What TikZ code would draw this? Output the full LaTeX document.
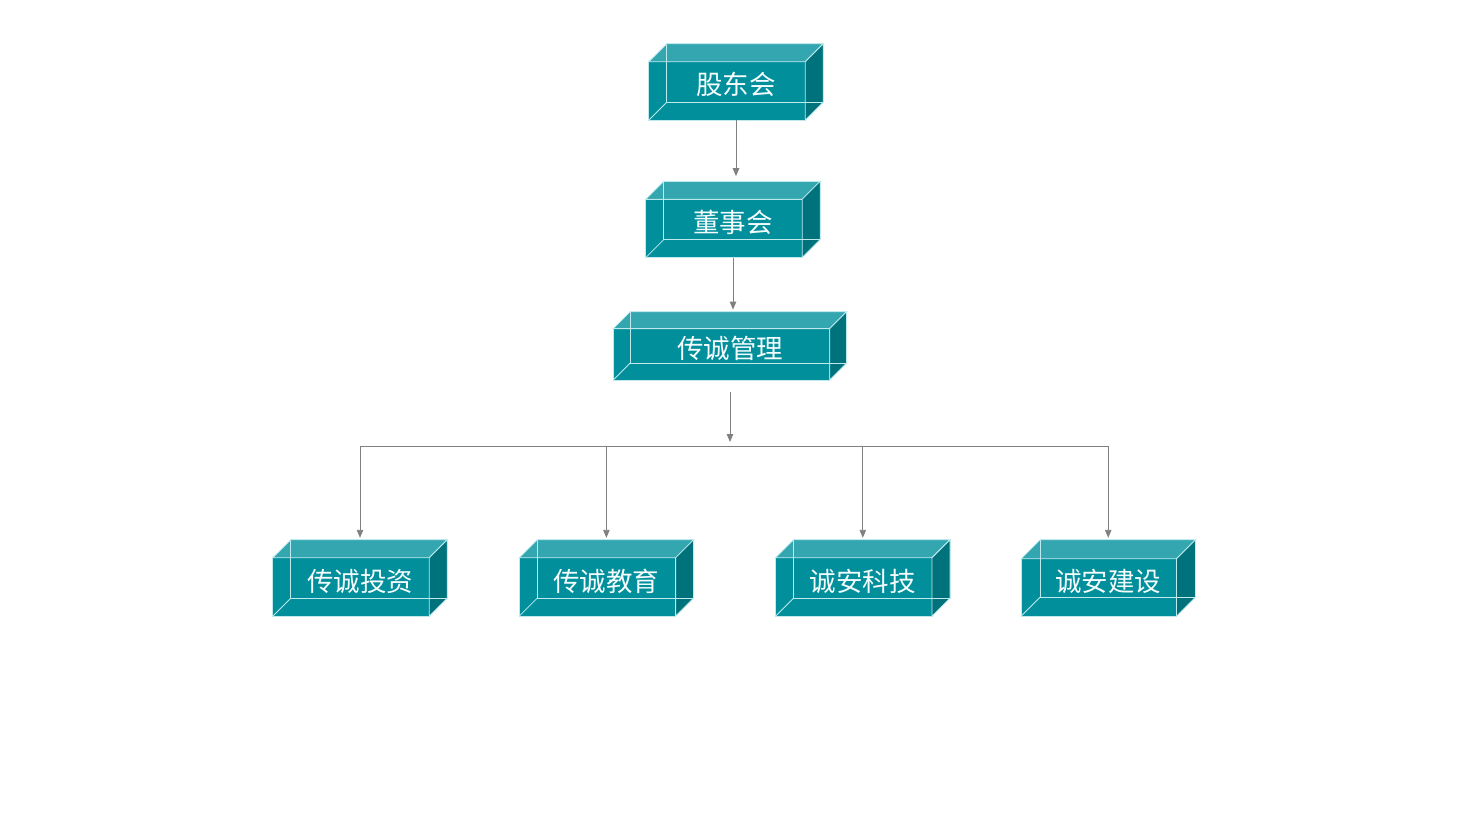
\documentclass[tikz,border=0pt]{standalone}
\usepackage{fontspec}
\newfontfamily\cjk{Noto Sans CJK SC}
\usetikzlibrary{arrows.meta, positioning, calc, backgrounds}

\definecolor{frontface}{RGB}{0,143,155}
\definecolor{topface}{RGB}{51,166,176}
\definecolor{sideface}{RGB}{0,114,124}
\definecolor{edgeline}{RGB}{190,234,238}
\definecolor{linkgray}{RGB}{128,128,128}

\begin{document}
\begin{tikzpicture}[
    x=1pt, y=-1pt,
    every node/.style={font=\cjk\fontsize{26.5}{26.5}\selectfont},
    crate/.style={
        rectangle,
        inner sep=0pt,
        minimum width=174pt,
        minimum height=76pt,
        text height=28pt,
        text depth=2pt,
        text=white!96!cyan
    },
    wide crate/.style={crate, minimum width=233pt, minimum height=68pt},
    face/.style={draw=edgeline, line width=0.8pt},
    link/.style={draw=linkgray, line width=0.9pt},
    arrow/.style={link, -{Triangle[length=8pt,width=6.5pt]}}
]
    \useasboundingbox (0,0) rectangle (1457,816);

    % Define nodes
    \node (gd) [crate] at (736,82) {股东会};
    \node (dsh) [crate, below=61pt of gd, xshift=-3pt] {董事会};
    \node (gl) [wide crate, below=54pt of dsh, xshift=-3pt] {传诚管理};

    \node (tz) [crate] at (360,578) {传诚投资};
    \node (jy) [crate, right=72pt of tz] {传诚教育};
    \node (kj) [crate, right=82pt of jy] {诚安科技};
    \node (js) [crate, right=71pt of kj] {诚安建设};

    % Draw the boxes behind the texts
    \begin{scope}[on background layer]
    \foreach \n/\d in {gd/18,dsh/18,gl/17,tz/18,jy/18,kj/18,js/19} {
        \filldraw [face, fill=frontface] (\n.south west) rectangle ($(\n.north east)+(-\d,\d)$);
        \filldraw [face, fill=topface] ($(\n.north west)+(0,\d)$) -- ($(\n.north west)+(\d,0)$)
            -- (\n.north east) -- ($(\n.north east)+(-\d,\d)$) -- cycle;
        \filldraw [face, fill=sideface] ($(\n.north east)+(-\d,\d)$) -- (\n.north east)
            -- ($(\n.south east)+(0,-\d)$) -- ($(\n.south east)+(-\d,0)$) -- cycle;
        % hidden edges
        \draw [face] ($(\n.south west)+(\d,-\d)$) rectangle (\n.north east);
        \draw [face] (\n.south west) -- ($(\n.south west)+(\d,-\d)$);
    }
    \end{scope}

    % Draw connections
    \draw [arrow, shorten >=5pt] (gd.south) -- (gd.south |- dsh.north);
    \draw [arrow, shorten >=2pt] (dsh.south) -- (dsh.south |- gl.north);

    \coordinate (bus) at ($(gl.south)+(0,66)$);
    \draw [arrow, shorten <=12pt, shorten >=4pt] (gl.south) -- (bus);
    \draw [link] (tz |- bus) -- (js |- bus);
    \foreach \n in {tz,jy,kj,js}
        \draw [arrow, shorten >=2pt] (\n |- bus) -- (\n.north);

\end{tikzpicture}
\end{document}
